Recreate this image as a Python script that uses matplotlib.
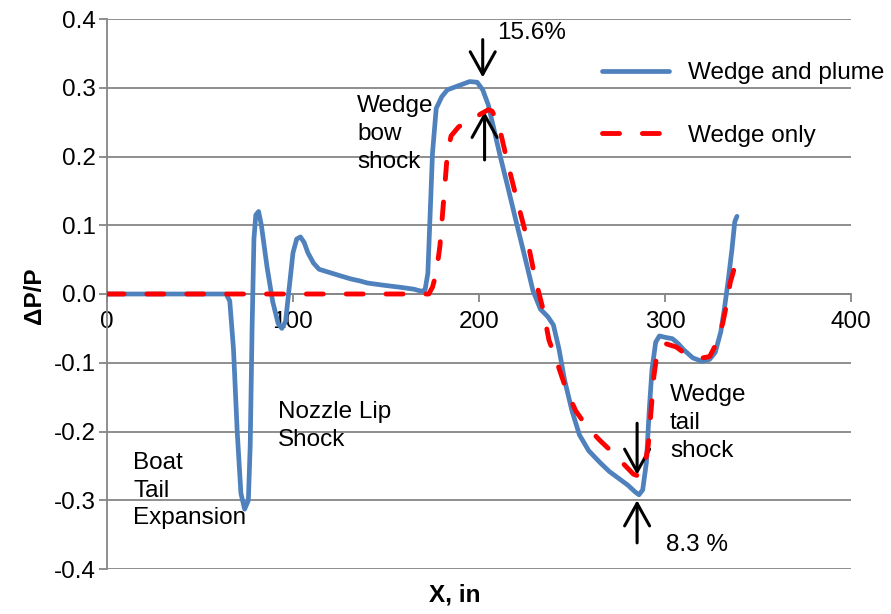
import matplotlib
matplotlib.use('Agg')
import matplotlib.pyplot as plt

plt.rcParams['font.family'] = ['Liberation Sans', 'DejaVu Sans']

# pressure signature, wedge + plume
x_plume = [0, 60, 64, 66, 68, 70, 72, 74, 76, 77, 78, 79, 80, 81.5, 83, 86, 89, 92, 94,
           96, 98, 100, 102, 104, 106, 108, 111, 114, 120, 126, 131, 136, 140, 148, 157,
           165, 169, 171, 172.5, 173.5, 175, 177, 180, 183, 187, 191, 195, 199, 202, 205,
           208, 211, 216, 220, 225, 229, 233, 237, 240, 243, 246, 250, 254, 259, 265, 270,
           275, 280, 284, 286, 288, 290, 291.5, 293, 295, 297, 300, 304, 307, 310, 315,
           320, 324, 327, 330, 332, 334, 336, 337.5, 338.7]
dp_plume = [0, 0, 0, -0.01, -0.08, -0.2, -0.29, -0.313, -0.30, -0.22, -0.05, 0.08, 0.115,
            0.12, 0.10, 0.04, -0.01, -0.043, -0.05, -0.04, 0.01, 0.06, 0.08, 0.083, 0.075,
            0.06, 0.045, 0.036, 0.031, 0.026, 0.022, 0.019, 0.016, 0.013, 0.010, 0.007,
            0.004, 0.006, 0.03, 0.10, 0.205, 0.27, 0.287, 0.297, 0.301, 0.305, 0.309, 0.308,
            0.297, 0.275, 0.24, 0.205, 0.15, 0.105, 0.05, 0.005, -0.022, -0.033, -0.045,
            -0.08, -0.125, -0.17, -0.205, -0.228, -0.245, -0.258, -0.268, -0.278, -0.288,
            -0.292, -0.285, -0.245, -0.17, -0.11, -0.07, -0.061, -0.063, -0.065, -0.072,
            -0.081, -0.093, -0.098, -0.095, -0.085, -0.055, -0.02, 0.02, 0.065, 0.105, 0.113]

# wedge alone
x_wedge = [0, 170, 173, 175, 177, 179, 180.5, 181.7, 183, 185, 189, 193, 197, 201, 205,
           207, 209.5, 212, 215, 220, 226, 230, 234.5, 237.6, 242, 247, 252, 258, 265, 272,
           278, 283, 286, 289, 291, 292.5, 294, 296, 300, 306, 310, 315, 320, 324, 328,
           331, 333.5, 335, 336.5, 337.6]
dp_wedge = [0, 0, 0, 0.01, 0.03, 0.07, 0.12, 0.16, 0.205, 0.23, 0.243, 0.25, 0.255, 0.262,
            0.268, 0.266, 0.253, 0.23, 0.195, 0.141, 0.079, 0.025, -0.023, -0.067, -0.10,
            -0.14, -0.17, -0.193, -0.213, -0.231, -0.248, -0.262, -0.265, -0.252, -0.22,
            -0.17, -0.12, -0.081, -0.072, -0.077, -0.085, -0.091, -0.093, -0.091, -0.07,
            -0.043, -0.01, 0.016, 0.03, 0.042]

xticks = [0, 100, 200, 300, 400]
yticks = [-0.4, -0.3, -0.2, -0.1, 0.0, 0.1, 0.2, 0.3, 0.4]

FS = 17.5
grey = '#868686'

fig = plt.figure(figsize=(8.91, 6.14), dpi=100)
ax = fig.add_axes([107/891, 1-569/614, (851-107)/891, (569-19)/614])

ax.plot(x_plume, dp_plume, color='#4f81bd', lw=3.4, solid_capstyle='round',
        solid_joinstyle='round', label='Wedge and plume', zorder=3)
ax.plot(x_wedge, dp_wedge, color='#ff0000', lw=3.5, linestyle=(0, (3.5, 4.7)),
        dash_capstyle='round', label='Wedge only', zorder=4)

ax.set_xlim(0, 400)
ax.set_ylim(-0.4, 0.4)
ax.set_xticks(xticks)
ax.set_yticks(yticks)
ax.set_yticklabels(['%.1f' % v for v in yticks])
ax.grid(axis='y', color=grey, lw=1.3)
ax.set_axisbelow(True)
for s in ['top', 'right']:
    ax.spines[s].set_visible(False)
ax.spines['bottom'].set_position(('data', 0))
for s in ['bottom', 'left']:
    ax.spines[s].set_color(grey)
    ax.spines[s].set_linewidth(1.3)
ax.tick_params(axis='both', colors=grey, labelcolor='black', labelsize=FS, width=1.3,
               length=6)
ax.tick_params(axis='x', direction='out', pad=6)
ax.tick_params(axis='y', pad=2)

fig.text(35/891, 1-296/614, 'ΔP/P', rotation=90, fontsize=FS, fontweight='bold',
         ha='center', va='center')
fig.text(455/891, 1-595/614, 'X, in', fontsize=FS, fontweight='bold',
         ha='center', va='center')

# callouts
arrow = dict(arrowstyle='->,head_length=0.45,head_width=0.25', color='black', lw=2.2,
             mutation_scale=36, shrinkA=0, shrinkB=0)
ax.annotate('', xy=(202, 0.315), xytext=(202, 0.370), arrowprops=arrow)
ax.annotate('', xy=(203, 0.265), xytext=(203, 0.195), arrowprops=arrow)
ax.annotate('', xy=(285, -0.263), xytext=(285, -0.188), arrowprops=arrow)
ax.annotate('', xy=(285, -0.300), xytext=(285, -0.362), arrowprops=arrow)
ax.text(209.7, 0.379, '15.6%', fontsize=FS, va='center')
ax.text(300.5, -0.365, '8.3 %', fontsize=FS, va='center')
ax.text(134.4, 0.233, 'Wedge\nbow\nshock', fontsize=FS, va='center', linespacing=1.34)
ax.text(92, -0.192, 'Nozzle Lip\nShock', fontsize=FS, va='center', linespacing=1.34)
ax.text(14, -0.286, 'Boat\nTail\nExpansion', fontsize=FS, va='center', linespacing=1.34)
ax.text(302.7, -0.188, 'Wedge\ntail\nshock', fontsize=FS, va='center', linespacing=1.34)

ax.legend(loc='upper left', bbox_to_anchor=(590/891, 1-50/614),
          bbox_transform=fig.transFigure, frameon=False, fontsize=FS,
          handlelength=2.75, handletextpad=0.8, labelspacing=1.67, borderpad=0)

fig.savefig('out.png', dpi=100)
